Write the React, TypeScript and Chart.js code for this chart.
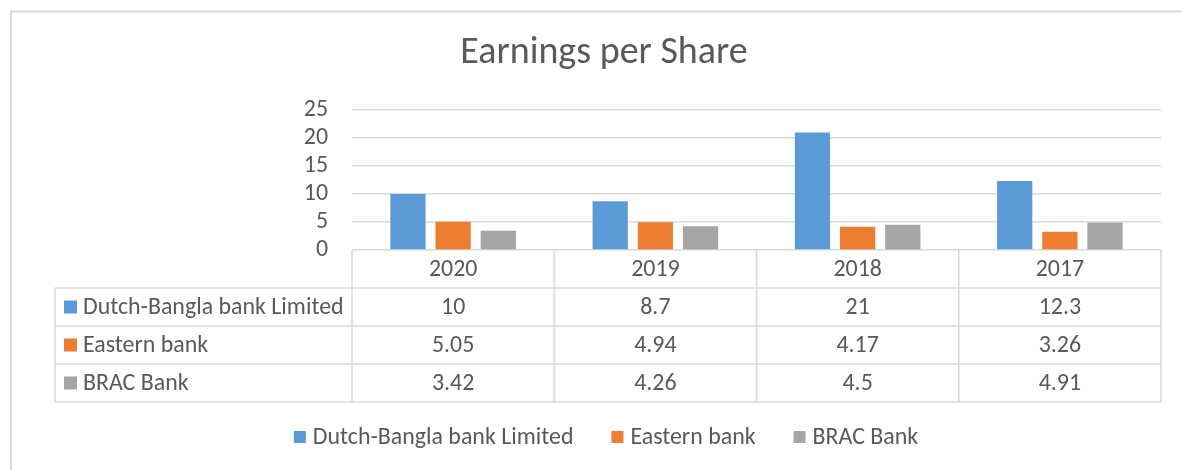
import React, { useEffect, useRef } from 'react';
import { Chart, registerables } from 'chart.js';

Chart.register(...registerables);

// ---- data ----
const categories = ['2020', '2019', '2018', '2017'];
const seriesNames = ['Dutch-Bangla bank Limited', 'Eastern bank', 'BRAC Bank'];
const dutchBangla = [10, 8.7, 21, 12.3];
const easternBank = [5.05, 4.94, 4.17, 3.26];
const bracBank = [3.42, 4.26, 4.5, 4.91];
const seriesColors = ['#5B9BD5', '#ED7D31', '#A5A5A5'];
const yMin = 0;
const yMax = 25;
const yStep = 5;
const titleText = 'Earnings per Share';

const seriesValues = [dutchBangla, easternBank, bracBank];

const FONT_FAMILY = 'Carlito, Lato, "Open Sans", sans-serif';
const TEXT = '#595959';
const GRID = '#D9D9D9';
const W = 1182;
const H = 470;

function fitSize(text: string, target: number) {
  const c = document.createElement('canvas').getContext('2d')!;
  c.font = `100px ${FONT_FAMILY}`;
  return (100 * target) / c.measureText(text).width;
}

export default function App() {
  const ref = useRef<HTMLCanvasElement | null>(null);

  useEffect(() => {
    document.body.style.margin = '0';
    const canvas = ref.current!;
    const bodySize = Math.round(fitSize(seriesNames[0], 261) * 10) / 10;
    const titleSize = Math.round(fitSize(titleText, 287) * 10) / 10;
    const bodyFont = `${bodySize}px ${FONT_FAMILY}`;

    const plugin = {
      id: 'excelExtras',
      beforeDraw(chart: any) {
        const { ctx } = chart;
        ctx.save();
        ctx.fillStyle = '#ffffff';
        ctx.fillRect(0, 0, chart.width, chart.height);
        ctx.strokeStyle = GRID;
        ctx.lineWidth = 2;
        ctx.strokeRect(11, 11.5, chart.width + 50, chart.height + 50);
        ctx.restore();
      },
      afterDraw(chart: any) {
        const { ctx, chartArea } = chart;
        const xs = chart.scales.x;
        const n = categories.length;
        const catW = (xs.right - xs.left) / n;
        const top = chartArea.bottom;
        const rowH = 38;
        const labelLeft = 55;
        const right = xs.right;
        const bottom = top + rowH * (1 + seriesNames.length);
        ctx.save();

        // table lines
        ctx.strokeStyle = GRID;
        ctx.lineWidth = 1.5;
        ctx.beginPath();
        for (let r = 1; r <= seriesNames.length + 1; r++) {
          const y = top + r * rowH;
          ctx.moveTo(labelLeft, y);
          ctx.lineTo(right, y);
        }
        ctx.moveTo(labelLeft, top + rowH);
        ctx.lineTo(labelLeft, bottom);
        for (let i = 0; i <= n; i++) {
          const x = xs.left + i * catW;
          ctx.moveTo(x, top);
          ctx.lineTo(x, bottom);
        }
        ctx.stroke();

        // text
        ctx.fillStyle = TEXT;
        ctx.font = bodyFont;
        ctx.textBaseline = 'middle';
        ctx.textAlign = 'center';
        categories.forEach((c, i) => {
          const cx = xs.getPixelForValue(i);
          ctx.fillText(c, cx, top + rowH / 2 + 1);
        });
        seriesValues.forEach((vals, s) => {
          const cy = top + rowH * (s + 1) + rowH / 2 + 1;
          vals.forEach((v, i) => {
            ctx.fillText(String(v), xs.getPixelForValue(i), cy);
          });
        });
        ctx.textAlign = 'left';
        seriesNames.forEach((name, s) => {
          const cy = top + rowH * (s + 1) + rowH / 2;
          ctx.fillStyle = seriesColors[s];
          ctx.fillRect(labelLeft + 9, cy - 6.5, 13, 13);
          ctx.fillStyle = TEXT;
          ctx.fillText(name, labelLeft + 28, cy + 1);
        });

        // legend
        const legendY = 437;
        const box = 12;
        const gapText = 7;
        const gapItem = 38;
        const widths = seriesNames.map((s) => ctx.measureText(s).width);
        const total =
          widths.reduce((a, b) => a + b, 0) +
          seriesNames.length * (box + gapText) +
          (seriesNames.length - 1) * gapItem;
        let lx = 606 - total / 2;
        seriesNames.forEach((name, s) => {
          ctx.fillStyle = seriesColors[s];
          ctx.fillRect(lx, legendY - box / 2, box, box);
          lx += box + gapText;
          ctx.fillStyle = TEXT;
          ctx.fillText(name, lx, legendY + 1);
          lx += widths[s] + gapItem;
        });

        // title
        ctx.font = `${titleSize}px ${FONT_FAMILY}`;
        ctx.textAlign = 'center';
        ctx.textBaseline = 'alphabetic';
        ctx.fillText(titleText, 604, 63);
        ctx.restore();
      },
    };

    const chart = new Chart(canvas, {
      type: 'bar',
      data: {
        labels: categories,
        datasets: seriesNames.map((name, s) => ({
          label: name,
          data: seriesValues[s],
          backgroundColor: seriesColors[s],
          borderWidth: 0,
          categoryPercentage: 0.67,
          barPercentage: 0.78,
        })),
      },
      options: {
        responsive: false,
        animation: false,
        layout: { padding: { top: 110, right: W - 1161, bottom: 220, left: 0 } },
        plugins: {
          legend: { display: false },
          title: { display: false },
          tooltip: { enabled: false },
        },
        scales: {
          x: { display: false },
          y: {
            min: yMin,
            max: yMax,
            ticks: {
              stepSize: yStep,
              autoSkip: false,
              color: TEXT,
              font: { family: FONT_FAMILY, size: bodySize },
              padding: 24,
            },
            grid: { color: GRID, lineWidth: 1.5, drawTicks: false },
            border: { display: false },
            afterFit: (scale: any) => {
              scale.width = 352;
            },
          },
        },
      },
      plugins: [plugin],
    });
    return () => chart.destroy();
  }, []);

  return (
    <div style={{ width: W, height: H }}>
      <canvas ref={ref} width={W} height={H} style={{ display: 'block' }} />
    </div>
  );
}
